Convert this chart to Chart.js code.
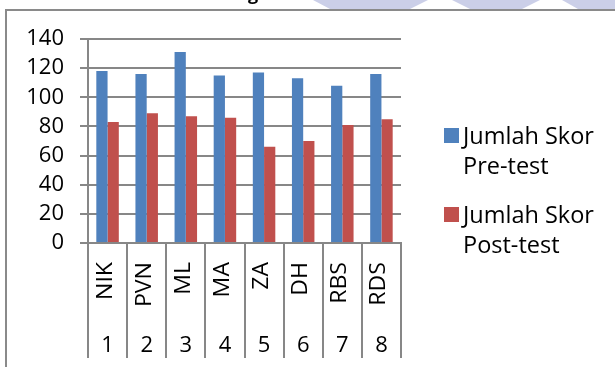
<!DOCTYPE html>
<html><head><meta charset="utf-8">
<script src="https://cdn.jsdelivr.net/npm/chart.js@4/dist/chart.umd.min.js"></script>
<style>
html,body{margin:0;padding:0;background:#fff;overflow:hidden}
canvas{display:block}
</style>
</head><body>
<canvas id="c" width="615" height="367"></canvas>
<script>
const categories = ['NIK','PVN','ML','MA','ZA','DH','RBS','RDS'];
const respondentNumbers = ['1','2','3','4','5','6','7','8'];
const preTest = [118,116,131,115,117,113,108,116];
const postTest = [83,89,87,86,66,70,81,85];
const yTickValues = [0,20,40,60,80,100,120,140];
const seriesNames = ['Jumlah Skor Pre-test','Jumlah Skor Post-test'];
const seriesColors = ['#4f81bd','#c0504d'];

const FONT = '"Open Sans", "Noto Sans", sans-serif';
const GRID = '#878787';

const decor = {
  id:'decor',
  beforeDraw(chart){
    const ctx = chart.ctx;
    ctx.save();
    ctx.fillStyle='#fff';
    ctx.fillRect(0,0,chart.width,chart.height);
    ctx.fillStyle='#cbcfe8';
    const polys=[[[313,0],[428,0],[410,9],[330,9]],[[452,0],[540,0],[522,9],[470,9]],[[562,0],[615,0],[615,9],[578,9]]];
    polys.forEach(p=>{ctx.beginPath();p.forEach((q,i)=>i?ctx.lineTo(q[0],q[1]):ctx.moveTo(q[0],q[1]));ctx.closePath();ctx.fill();});
    ctx.fillStyle='#000';
    ctx.font='bold 18px '+FONT;
    ctx.textAlign='center';ctx.textBaseline='alphabetic';
    ctx.fillText('g',253,-0.5);
    ctx.fillStyle='#8a8a8a';
    ctx.fillRect(5,9,chart.width-5,2);
    ctx.fillRect(5,9,2,chart.height-9);
    ctx.restore();
  },
  afterDraw(chart){
    const ctx = chart.ctx, xs = chart.scales.x;
    ctx.save();
    ctx.fillStyle='#000';
    chart.data.labels.forEach((lab,i)=>{
      const cx = xs.getPixelForValue(i);
      ctx.save();
      ctx.font='21px '+FONT;
      ctx.translate(cx+4,262);
      ctx.rotate(-Math.PI/2);
      ctx.scale(1.1,1);
      ctx.textAlign='right';ctx.textBaseline='alphabetic';
      ctx.fillText(lab,0,0);
      ctx.restore();
      ctx.font='22px '+FONT;
      ctx.textAlign='center';ctx.textBaseline='alphabetic';
      ctx.fillText(respondentNumbers[i],cx,352);
    });
    chart.data.datasets.forEach((ds,i)=>{
      const top = 128 + i*79;
      ctx.fillStyle=ds.backgroundColor;
      ctx.fillRect(444,top,15,15);
      const words = ds.label.split(' ');
      ctx.fillStyle='#000';
      ctx.font='23.5px '+FONT;
      ctx.textAlign='left';ctx.textBaseline='alphabetic';
      ctx.fillText(words.slice(0,2).join(' '),463,top+16);
      ctx.fillText(words.slice(2).join(' '),463,top+46);
    });
    ctx.restore();
  }
};

new Chart(document.getElementById('c'),{
  type:'bar',
  data:{
    labels:categories,
    datasets:[
      {label:seriesNames[0],data:preTest,backgroundColor:seriesColors[0]},
      {label:seriesNames[1],data:postTest,backgroundColor:seriesColors[1]}
    ]
  },
  options:{
    responsive:false,
    animation:false,
    devicePixelRatio:1,
    categoryPercentage:0.575,
    barPercentage:1,
    layout:{padding:{left:0,top:39,right:214,bottom:9}},
    plugins:{legend:{display:false},tooltip:{enabled:false},title:{display:false}},
    scales:{
      x:{
        offset:true,
        grid:{offset:true,drawOnChartArea:false,drawTicks:true,tickLength:115,color:GRID,lineWidth:2},
        border:{display:true,color:GRID,width:2},
        ticks:{display:false}
      },
      y:{
        min:0,max:140,
        afterBuildTicks:s=>{s.ticks=yTickValues.map(v=>({value:v}));},
        afterFit:s=>{s.width=88;},
        grid:{color:GRID,lineWidth:2,drawTicks:true,tickLength:8},
        border:{display:true,color:GRID,width:2},
        ticks:{color:'#000',font:{family:FONT,size:22},padding:16,autoSkip:false}
      }
    }
  },
  plugins:[decor]
});
</script>
</body></html>
